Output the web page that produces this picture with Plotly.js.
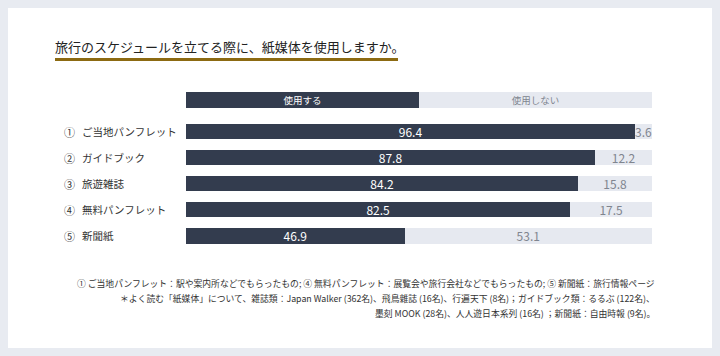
<!DOCTYPE html>
<html><head><meta charset="utf-8">
<script src="https://cdn.plot.ly/plotly-3.0.1.min.js"></script>
<style>
html,body{margin:0;padding:0;background:#fff;}
#chart{width:720px;height:356px;background:#fff;box-shadow:inset 0 0 0 8px #e8ebf1;}
</style></head>
<body><div id="chart"></div>
<script>
const categories = ['① ご当地パンフレット','② ガイドブック','③ 旅遊雑誌','④ 無料パンフレット','⑤ 新聞紙'];
const useValues = [96.4, 87.8, 84.2, 82.5, 46.9];
const notUseValues = [3.6, 12.2, 15.8, 17.5, 53.1];
const legendLabels = ['使用する','使用しない'];
const headerShares = [50, 50];
const titleText = '旅行のスケジュールを立てる際に、紙媒体を使用しますか。';
const footnotes = [
  '① ご当地パンフレット：駅や案内所などでもらったもの; ④ 無料パンフレット：展覧会や旅行会社などでもらったもの; ⑤ 新聞紙：旅行情報ページ',
  '＊よく読む「紙媒体」について、雑誌類：Japan Walker (362名)、飛鳥雜誌 (16名)、行遍天下 (8名)；ガイドブック類：るるぶ (122名)、',
  '墨刻 MOOK (28名)、人人遊日本系列 (16名) ；新聞紙：自由時報 (9名)。'
];

const DARK = '#333c4e', LIGHT = '#e6e9f0', GREY = '#80858f';
const FONT = 'Noto Sans CJK JP, sans-serif';

const W = 720, H = 356, ML = 186, MR = 68, MT = 87, MB = 107;
const PW = W - ML - MR, PH = H - MT - MB;
const px = v => (v - ML) / PW;
const py = v => (H - MB - v) / PH;

const traces = [
  {type:'bar', orientation:'h', y:categories, x:useValues, name:legendLabels[0],
   marker:{color:DARK}, width:0.58, text:useValues.map(v=>v.toFixed(1)),
   textposition:'inside', insidetextanchor:'middle', constraintext:'none', textangle:0,
   textfont:{color:'#ffffff', size:12, family:FONT}, hoverinfo:'skip', xaxis:'x', yaxis:'y'},
  {type:'bar', orientation:'h', y:categories, x:notUseValues, name:legendLabels[1],
   marker:{color:LIGHT}, width:0.58, text:notUseValues.map(v=>v.toFixed(1)),
   textposition:'inside', insidetextanchor:'middle', constraintext:'none', textangle:0,
   textfont:{color:GREY, size:12, family:FONT}, hoverinfo:'skip', xaxis:'x', yaxis:'y'},
  {type:'bar', orientation:'h', y:['h'], x:[headerShares[0]], marker:{color:DARK}, width:0.62,
   text:[legendLabels[0]], textposition:'inside', insidetextanchor:'middle', constraintext:'none', textangle:0,
   textfont:{color:'#ffffff', size:9.5, family:FONT}, hoverinfo:'skip', xaxis:'x', yaxis:'y2'},
  {type:'bar', orientation:'h', y:['h'], x:[headerShares[1]], marker:{color:LIGHT}, width:0.62,
   text:[legendLabels[1]], textposition:'inside', insidetextanchor:'middle', constraintext:'none', textangle:0,
   textfont:{color:GREY, size:9.5, family:FONT}, hoverinfo:'skip', xaxis:'x', yaxis:'y2'}
];

const annotations = [];
categories.forEach(c => {
  const sp = c.indexOf(' ');
  annotations.push({xref:'paper', yref:'y', x:px(62), y:c, xanchor:'left', yanchor:'middle',
    text:c.slice(0, sp), showarrow:false, font:{size:11, color:'#333333', family:FONT}});
  annotations.push({xref:'paper', yref:'y', x:px(80), y:c, xanchor:'left', yanchor:'middle',
    text:c.slice(sp + 1), showarrow:false, font:{size:10.5, color:'#333333', family:FONT}});
});
const fnY = [283, 298, 313];
footnotes.forEach((t,i) => annotations.push({
  xref:'paper', yref:'paper', x:px(657), y:py(fnY[i]), xanchor:'right', yanchor:'middle',
  text:t, showarrow:false, font:{size:8.8, color:'#333333', family:FONT}
}));

const layout = {
  width:W, height:H, margin:{l:ML, r:MR, t:MT, b:MB},
  paper_bgcolor:'rgba(0,0,0,0)', plot_bgcolor:'rgba(0,0,0,0)',
  barmode:'stack', bargap:0, showlegend:false,
  font:{family:FONT},
  title:{text:titleText, xref:'container', yref:'container', x:55/W, xanchor:'left',
         y:1-47/H, yanchor:'middle', font:{size:13, color:'#222222', family:FONT}},
  xaxis:{range:[0,100], visible:false, fixedrange:true},
  yaxis:{domain:[0, (PH-31.5)/PH], autorange:'reversed', visible:false, fixedrange:true},
  yaxis2:{domain:[(PH-26)/PH, 1], range:[-0.5,0.5], visible:false, fixedrange:true},
  shapes:[{type:'line', xref:'paper', yref:'paper', x0:px(55), x1:px(398), y0:py(59.5), y1:py(59.5),
           line:{color:'#8c6a12', width:3}}],
  annotations:annotations
};

Plotly.newPlot('chart', traces, layout, {displayModeBar:false, staticPlot:true});
</script></body></html>
